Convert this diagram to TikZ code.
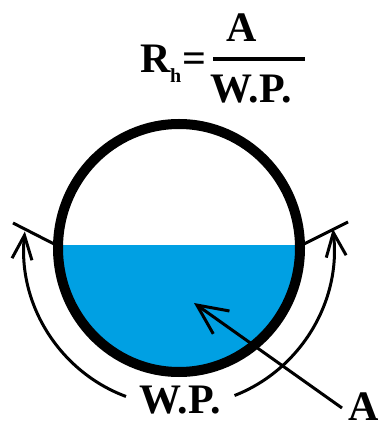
\documentclass[tikz,border=0pt]{standalone}
\usepackage{fontspec}
\setmainfont{Liberation Serif}
\usetikzlibrary{arrows.meta}
\definecolor{waterblue}{RGB}{0,160,227}
\begin{document}
\begin{tikzpicture}[x=1pt, y=1pt,
    txt/.style={font=\fontsize{42}{48}\selectfont\bfseries, inner sep=0pt},
    bigtip/.style={-{Straight Barb[length=30pt, width=28pt]}},
    smalltip/.style={-{Straight Barb[length=24pt, width=20pt]}}]
    \useasboundingbox (-179,-177) rectangle (203,248);

    \begin{scope}
        \clip (0,0) ellipse [x radius=121, y radius=124];
        \fill[waterblue] (-130,3) rectangle (130,-130);
    \end{scope}
    \draw[line width=10pt] (0,0) ellipse [x radius=121, y radius=124];

    \draw[line width=3pt] (-121,2) -- (-166,25);
    \draw[line width=3pt] (121,2) -- (169,26);

    \draw[line width=3pt, smalltip] (250:155 and 158)
        arc[start angle=250, end angle=174, x radius=155, y radius=158];
    \draw[line width=3pt, smalltip] (-69:155 and 158)
        arc[start angle=-69, end angle=7, x radius=155, y radius=158];

    \coordinate (atail) at (163,-160);
    \coordinate (atip) at (15,-55);
    \draw[line width=3pt, bigtip] (atail) -- (atip);

    \node[txt, anchor=base west] (rsym) at (-39,175) {R};
    \node[font=\fontsize{20}{24}\selectfont\bfseries, inner sep=0pt, anchor=base west] (hsub) at (-9,165) {h};
    \node[txt, anchor=base] (eqsym) at (15.5,175) {=};
    \node[txt, anchor=base] (num) at (63,206) {A};
    \draw[line width=4pt] (34,189) -- (126,189);
    \node[txt, anchor=base] (den) at (72,145) {W.P.};

    \node[txt, anchor=base] (wplabel) at (1,-165) {W.P.};
    \node[txt, anchor=base west] (alabel) at (169,-172) {A};
\end{tikzpicture}
\end{document}
